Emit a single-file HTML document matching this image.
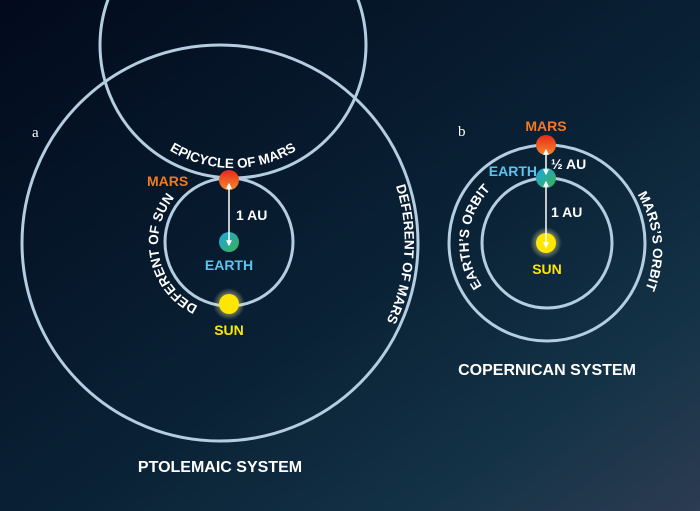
<!DOCTYPE html>
<html><head><meta charset="utf-8"><style>
html,body{margin:0;padding:0;width:700px;height:511px;overflow:hidden;background:#061428}
svg{display:block}
text{font-family:"Liberation Sans",sans-serif;font-weight:bold}
</style></head><body>
<svg width="700" height="511" viewBox="0 0 700 511" xmlns="http://www.w3.org/2000/svg">
<defs>
<linearGradient id="bg" x1="0" y1="0" x2="1" y2="1">
<stop offset="0" stop-color="#020a1c"/><stop offset="0.55" stop-color="#0a2236"/><stop offset="0.8" stop-color="#143246"/><stop offset="1" stop-color="#2c3c52"/>
</linearGradient>
<linearGradient id="mars" x1="0" y1="0" x2="0" y2="1"><stop offset="0" stop-color="#e8281c"/><stop offset="1" stop-color="#f4892a"/></linearGradient>
<linearGradient id="earth" x1="0" y1="0" x2="1" y2="1"><stop offset="0" stop-color="#1aa8e8"/><stop offset="1" stop-color="#3cb04a"/></linearGradient>
<radialGradient id="glow"><stop offset="0.4" stop-color="#fff8a0" stop-opacity="0.6"/><stop offset="1" stop-color="#fff8a0" stop-opacity="0"/></radialGradient>
<marker id="ah" viewBox="0 0 10 10" refX="8" refY="5" markerWidth="4" markerHeight="4" orient="auto-start-reverse"><path d="M0,0 L10,5 L0,10 z" fill="#fff"/></marker>
<path id="pEpi" d="M 140,125 A 122 122 0 0 0 326,125"/>
<path id="pDefSun" d="M 200,307 A 70 70 0 0 1 176,196"/>
<path id="pDefMars" d="M 388,166 A 182 182 0 0 1 376,340"/>
<path id="pEO" d="M 485,290 A 76 76 0 0 1 494,186"/>
<path id="pMO" d="M 633,188 A 104 104 0 0 1 642,296"/>
</defs>
<rect width="700" height="511" fill="url(#bg)"/>
<g fill="none" stroke="#b4cde0" stroke-width="3">
<circle cx="220" cy="243" r="198"/>
<circle cx="233" cy="45" r="133"/>
<circle cx="229" cy="242" r="64"/>
<circle cx="547" cy="243" r="98"/>
<circle cx="547" cy="243" r="65"/>
</g>
<text x="32" y="137" style="font-family:'Liberation Serif',serif;font-weight:normal" fill="#fff" font-size="15">a</text>
<text x="458" y="136" style="font-family:'Liberation Serif',serif;font-weight:normal" fill="#fff" font-size="15">b</text>
<g fill="#fff" font-size="13.5">
<text><textPath href="#pEpi" startOffset="50%" text-anchor="middle">EPICYCLE OF MARS</textPath></text>
<text><textPath href="#pDefSun" startOffset="50%" text-anchor="middle">DEFERENT OF SUN</textPath></text>
<text><textPath href="#pDefMars" startOffset="50%" text-anchor="middle">DEFERENT OF MARS</textPath></text>
<text><textPath href="#pEO" startOffset="50%" text-anchor="middle">EARTH’S ORBIT</textPath></text>
<text><textPath href="#pMO" startOffset="50%" text-anchor="middle">MARS’S ORBIT</textPath></text>
</g>
<circle cx="229" cy="304" r="16" fill="url(#glow)"/>
<circle cx="229" cy="180" r="10" fill="url(#mars)"/>
<circle cx="229" cy="242" r="10" fill="url(#earth)"/>
<circle cx="229" cy="304" r="10" fill="#ffe600"/>
<line x1="229" y1="184" x2="229" y2="245" stroke="#fff" stroke-width="1.5" marker-start="url(#ah)" marker-end="url(#ah)"/>
<circle cx="546" cy="243" r="16" fill="url(#glow)"/>
<circle cx="546" cy="145" r="10" fill="url(#mars)"/>
<circle cx="546" cy="178" r="10" fill="url(#earth)"/>
<circle cx="546" cy="243" r="10" fill="#ffe600"/>
<line x1="546" y1="150" x2="546" y2="174" stroke="#fff" stroke-width="1.5" marker-start="url(#ah)" marker-end="url(#ah)"/>
<line x1="546" y1="182" x2="546" y2="247" stroke="#fff" stroke-width="1.5" marker-start="url(#ah)" marker-end="url(#ah)"/>
<g font-size="14">
<text x="147" y="186" fill="#f07a22">MARS</text>
<text x="229" y="270" fill="#5cc4ee" text-anchor="middle">EARTH</text>
<text x="229" y="335" fill="#ffe600" text-anchor="middle">SUN</text>
<text x="236" y="220" fill="#fff">1 AU</text>
<text x="546" y="131" fill="#f07a22" text-anchor="middle">MARS</text>
<text x="537" y="176" fill="#5cc4ee" text-anchor="end">EARTH</text>
<text x="551" y="169" fill="#fff">½ AU</text>
<text x="551" y="217" fill="#fff">1 AU</text>
<text x="547" y="274" fill="#ffe600" text-anchor="middle">SUN</text>
</g>
<g fill="#fff" font-size="16" text-anchor="middle">
<text x="220" y="472">PTOLEMAIC SYSTEM</text>
<text x="547" y="375">COPERNICAN SYSTEM</text>
</g>
</svg>
</body></html>
